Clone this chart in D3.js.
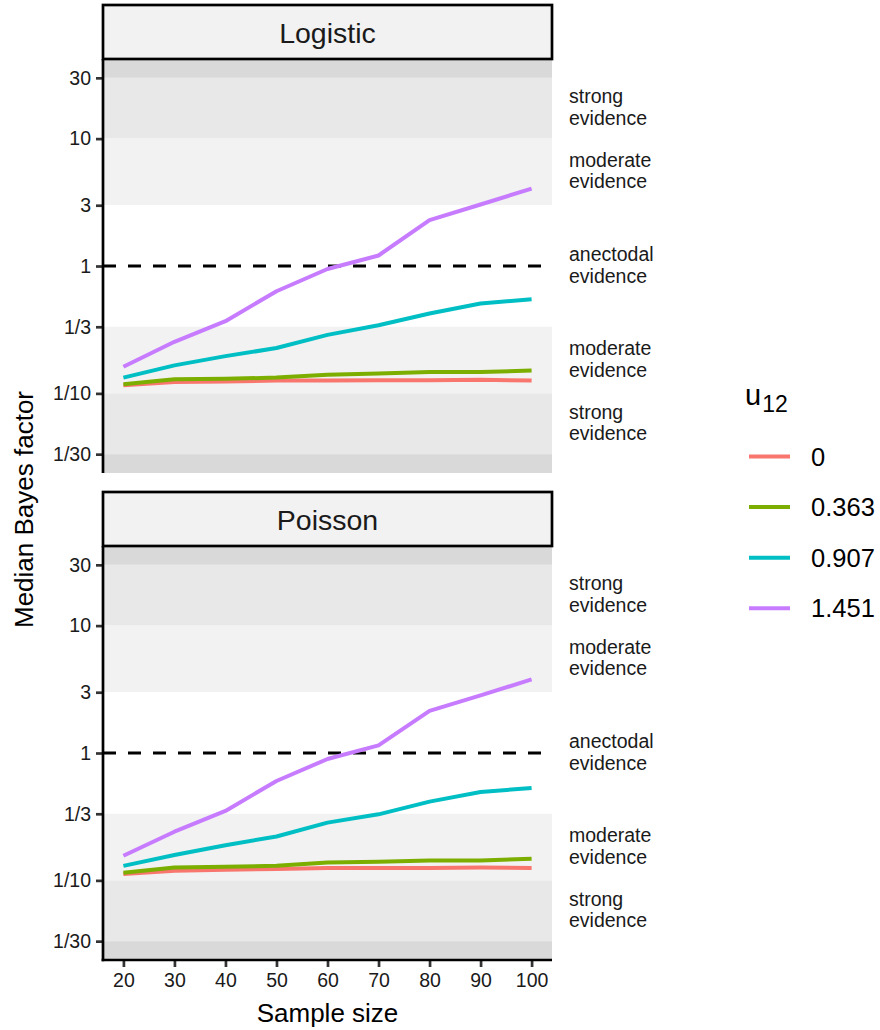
<!DOCTYPE html>
<html>
<head>
<meta charset="utf-8">
<script src="https://cdn.jsdelivr.net/npm/d3@7"></script>
<style>
  html, body { margin: 0; padding: 0; background: #fff; }
  svg { display: block; font-family: "Liberation Sans", Arial, Helvetica, sans-serif; }
</style>
</head>
<body>
<svg id="chart" width="880" height="1030"></svg>
<script>
// ---------------- data ----------------
const sampleSize = [20, 30, 40, 50, 60, 70, 80, 90, 100];
const u12Levels = ["0", "0.363", "0.907", "1.451"];
const facets = ["Logistic", "Poisson"];

// Logistic facet: median Bayes factor per u12 level
const logistic_u0     = [0.116, 0.123, 0.124, 0.126, 0.126, 0.127, 0.127, 0.128, 0.126];
const logistic_u0363  = [0.118, 0.129, 0.130, 0.133, 0.140, 0.143, 0.147, 0.147, 0.151];
const logistic_u0907  = [0.133, 0.166, 0.196, 0.227, 0.288, 0.343, 0.424, 0.508, 0.549];
const logistic_u1451  = [0.162, 0.254, 0.369, 0.634, 0.947, 1.209, 2.290, 3.040, 4.050];

// Poisson facet
const poisson_u0      = [0.112, 0.119, 0.121, 0.123, 0.125, 0.125, 0.125, 0.126, 0.125];
const poisson_u0363   = [0.115, 0.126, 0.128, 0.130, 0.138, 0.140, 0.143, 0.143, 0.148];
const poisson_u0907   = [0.130, 0.158, 0.189, 0.221, 0.284, 0.330, 0.415, 0.494, 0.531];
const poisson_u1451   = [0.156, 0.241, 0.351, 0.603, 0.897, 1.149, 2.140, 2.830, 3.780];

const xTicks = [20, 30, 40, 50, 60, 70, 80, 90, 100];
const yTickValues = [30, 10, 3, 1, 1/3, 1/10, 1/30];
const yTickLabels = ["30", "10", "3", "1", "1/3", "1/10", "1/30"];

// evidence bands (boundaries of Bayes factor)
const bandEdges = [Infinity, 30, 10, 3, 1/3, 1/10, 1/30, 0];
// evidence labels: position (geometric middle of band) and text
const evidenceAt = [Math.sqrt(300), Math.sqrt(30), 1, 1/Math.sqrt(30), 1/Math.sqrt(300)];
const evidenceLabels = [["strong","evidence"],["moderate","evidence"],["anectodal","evidence"],["moderate","evidence"],["strong","evidence"]];

// ---------------- layout ----------------
const colors = ["#F8766D", "#7CAE00", "#00BFC4", "#C77CFF"];
const bandFills = ["#d9d9d9", "#e8e8e8", "#f2f2f2", "#ffffff", "#f2f2f2", "#e8e8e8", "#d9d9d9"];

const seriesByFacet = {
  "Logistic": [logistic_u0, logistic_u0363, logistic_u0907, logistic_u1451],
  "Poisson":  [poisson_u0, poisson_u0363, poisson_u0907, poisson_u1451]
};

const panelLeft = 103, panelRight = 552;
const panels = [
  { name: "Logistic", stripTop: 5,   top: 59,  bottom: 473 },
  { name: "Poisson",  stripTop: 492, top: 546, bottom: 960 }
];

const svg = d3.select("#chart");
const x = d3.scaleLinear().domain([16, 104]).range([panelLeft, panelRight]);
const yDom = [Math.pow(10, -1.625), Math.pow(10, 1.625)];

panels.forEach((p, pi) => {
  const y = d3.scaleLog().domain(yDom).range([p.bottom, p.top]);
  const clamp = v => Math.max(yDom[0], Math.min(yDom[1], v));
  const g = svg.append("g");

  // bands
  for (let i = 0; i < bandEdges.length - 1; i++) {
    const hi = clamp(bandEdges[i]), lo = clamp(bandEdges[i + 1]);
    g.append("rect")
      .attr("x", panelLeft).attr("width", panelRight - panelLeft)
      .attr("y", y(hi)).attr("height", y(lo) - y(hi))
      .attr("fill", bandFills[i]);
  }

  // dashed reference line at 1
  g.append("line")
    .attr("x1", panelLeft).attr("x2", panelRight)
    .attr("y1", y(1)).attr("y2", y(1))
    .attr("stroke", "#000").attr("stroke-width", 3.2)
    .attr("stroke-dasharray", "13,12");

  // lines
  const line = d3.line().x((d, i) => x(sampleSize[i])).y(d => y(d));
  seriesByFacet[p.name].forEach((vals, si) => {
    g.append("path").datum(vals)
      .attr("d", line)
      .attr("fill", "none")
      .attr("stroke", colors[si])
      .attr("stroke-width", 4)
      .attr("stroke-linejoin", "round");
  });

  // y axis
  const yAxis = d3.axisLeft(y).tickValues(yTickValues)
    .tickFormat((d, i) => yTickLabels[i]).tickSize(7).tickPadding(5);
  const ya = g.append("g").attr("transform", `translate(${panelLeft},0)`).call(yAxis);
  ya.select(".domain").remove();
  ya.selectAll(".tick line").attr("stroke", "#333").attr("stroke-width", 2.7);
  ya.selectAll(".tick text").attr("font-size", 19.5).attr("fill", "#1a1a1a")
    .attr("font-family", "Liberation Sans, Arial, sans-serif");
  g.append("line").attr("x1", panelLeft).attr("x2", panelLeft)
    .attr("y1", p.top).attr("y2", p.bottom + (pi === 1 ? 1.35 : 0))
    .attr("stroke", "#000").attr("stroke-width", 2.7);

  // strip
  g.append("rect")
    .attr("x", panelLeft).attr("y", p.stripTop)
    .attr("width", panelRight - panelLeft).attr("height", p.top - p.stripTop)
    .attr("fill", "#f2f2f2").attr("stroke", "#000").attr("stroke-width", 2.7);
  g.append("text")
    .attr("x", (panelLeft + panelRight) / 2).attr("y", p.stripTop + 38)
    .attr("text-anchor", "middle").attr("font-size", 28.5).attr("fill", "#1a1a1a")
    .text(p.name);

  // evidence labels
  evidenceAt.forEach((v, i) => {
    const t = g.append("text").attr("x", 569).attr("y", y(v))
      .attr("font-size", 19.5).attr("fill", "#1a1a1a");
    t.append("tspan").attr("x", 569).attr("dy", "-0.25em").text(evidenceLabels[i][0]);
    t.append("tspan").attr("x", 569).attr("dy", "1.1em").text(evidenceLabels[i][1]);
  });

  // x axis on bottom panel only
  if (pi === 1) {
    const xAxis = d3.axisBottom(x).tickValues(xTicks).tickSize(7).tickPadding(6);
    const xa = g.append("g").attr("transform", `translate(0,${p.bottom})`).call(xAxis);
    xa.select(".domain").remove();
    xa.selectAll(".tick line").attr("stroke", "#333").attr("stroke-width", 2.7);
    xa.selectAll(".tick text").attr("font-size", 19.5).attr("fill", "#1a1a1a")
      .attr("font-family", "Liberation Sans, Arial, sans-serif");
    g.append("line").attr("x1", panelLeft - 1.35).attr("x2", panelRight)
      .attr("y1", p.bottom).attr("y2", p.bottom)
      .attr("stroke", "#000").attr("stroke-width", 2.7);
  }
});

// axis titles
svg.append("text")
  .attr("x", (panelLeft + panelRight) / 2).attr("y", 1022)
  .attr("text-anchor", "middle").attr("font-size", 26).attr("fill", "#000")
  .text("Sample size");
svg.append("text")
  .attr("transform", `translate(33,${(panels[0].top + panels[1].bottom) / 2}) rotate(-90)`)
  .attr("text-anchor", "middle").attr("font-size", 26).attr("fill", "#000")
  .text("Median Bayes factor");

// legend
const lg = svg.append("g");
const lt = lg.append("text").attr("x", 745).attr("y", 405).attr("fill", "#000");
lt.append("tspan").attr("font-size", 29).text("u");
lt.append("tspan").attr("font-size", 23).attr("dy", 7).attr("dx", 1).text("12");
u12Levels.forEach((lab, i) => {
  const yy = 456.5 + i * 50.6;
  lg.append("line").attr("x1", 749).attr("x2", 790).attr("y1", yy).attr("y2", yy)
    .attr("stroke", colors[i]).attr("stroke-width", 4);
  lg.append("text").attr("x", 811).attr("y", yy).attr("dy", "0.36em")
    .attr("font-size", 25.5).attr("fill", "#000").text(lab);
});
</script>
</body>
</html>
